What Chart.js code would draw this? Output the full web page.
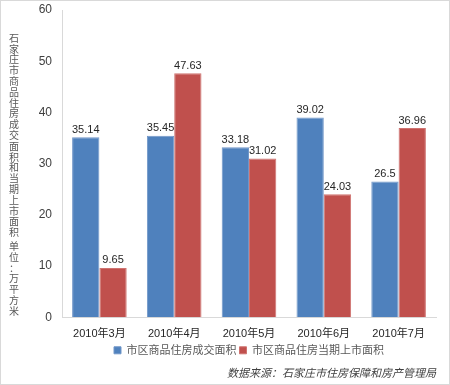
<!DOCTYPE html>
<html>
<head>
<meta charset="utf-8">
<script src="https://cdn.jsdelivr.net/npm/chart.js@4.4.1/dist/chart.umd.min.js"></script>
<style>
  html, body { margin: 0; padding: 0; background: #fff; }
  #wrap { width: 450px; height: 385px; position: relative; box-sizing: border-box; border: 1px solid #d9d9d9; }
</style>
</head>
<body>
<div id="wrap"><canvas id="chart"></canvas></div>
<script>
// chart data
const months = ["2010年3月", "2010年4月", "2010年5月", "2010年6月", "2010年7月"];
const soldArea = [35.14, 35.45, 33.18, 39.02, 26.5];
const listedArea = [9.65, 47.63, 31.02, 24.03, 36.96];
const seriesNames = ["市区商品住房成交面积", "市区商品住房当期上市面积"];
const yTitle = "石家庄市商品住房成交面积和当期上市面积 单位：万平方米";
const sourceNote = "数据来源：石家庄市住房保障和房产管理局";

const latin = "'Liberation Sans', Arial, 'Noto Sans CJK SC', sans-serif";
const cjk = "'Noto Sans CJK SC', sans-serif";

// values above each bar
const barLabels = {
    id: "barLabels",
    afterDatasetsDraw(chart) {
        const ctx = chart.ctx;
        ctx.save();
        ctx.font = "11px " + latin;
        ctx.fillStyle = "#262626";
        ctx.textAlign = "center";
        ctx.textBaseline = "bottom";
        chart.data.datasets.forEach((ds, i) => {
            chart.getDatasetMeta(i).data.forEach((bar, j) => {
                ctx.fillText(String(ds.data[j]), bar.x, bar.y - 2);
            });
        });
        ctx.restore();
    }
};

// stacked vertical y-axis title
const verticalTitle = {
    id: "verticalTitle",
    afterDraw(chart) {
        const ctx = chart.ctx;
        ctx.save();
        ctx.font = "10px " + cjk;
        ctx.fillStyle = "#595959";
        ctx.textAlign = "center";
        ctx.textBaseline = "middle";
        const step = 10.8;
        let y = 37;
        for (const ch of yTitle) {
            if (ch === " ") { y += 3; continue; }
            ctx.fillText(ch, 13, y);
            y += step;
        }
        ctx.restore();
    }
};

new Chart(document.getElementById("chart"), {
    type: "bar",
    data: {
        labels: months,
        datasets: [{
            label: seriesNames[0],
            data: soldArea,
            backgroundColor: "#4f81bd",
            borderColor: "#7096c8",
            borderWidth: 1,
            categoryPercentage: 0.73,
            barPercentage: 1
        }, {
            label: seriesNames[1],
            data: listedArea,
            backgroundColor: "#c0504d",
            borderColor: "#cf7370",
            borderWidth: 1,
            categoryPercentage: 0.73,
            barPercentage: 1
        }]
    },
    options: {
        responsive: true,
        maintainAspectRatio: false,
        animation: false,
        layout: { padding: { top: 9, right: 13, left: 0, bottom: 5 } },
        plugins: {
            tooltip: { enabled: false },
            legend: {
                position: "bottom",
                fullSize: false,
                labels: {
                    boxWidth: 7,
                    boxHeight: 7,
                    padding: 3,
                    color: "#595959",
                    font: { family: cjk, size: 11 }
                }
            },
            title: {
                display: true,
                position: "bottom",
                align: "end",
                fullSize: false,
                text: sourceNote,
                color: "#404040",
                padding: { top: 0, bottom: 0 },
                font: { family: cjk, size: 11, style: "italic", weight: "normal" }
            }
        },
        scales: {
            x: {
                afterFit: scale => { scale.height = 24.5; },
                grid: { display: false, drawTicks: false },
                border: { display: true, color: "#d9d9d9" },
                ticks: { color: "#262626", padding: 10, font: { family: latin, size: 11 } }
            },
            y: {
                min: 0,
                max: 60,
                afterFit: scale => {
                    scale.width = 61;
                    scale.paddingTop = 0;
                    scale.paddingBottom = 0;
                },
                grid: { display: false, drawTicks: false },
                border: { display: true, color: "#d9d9d9" },
                ticks: { stepSize: 10, color: "#404040", padding: 10, font: { family: latin, size: 12 } }
            }
        }
    },
    plugins: [barLabels, verticalTitle]
});
</script>
</body>
</html>
